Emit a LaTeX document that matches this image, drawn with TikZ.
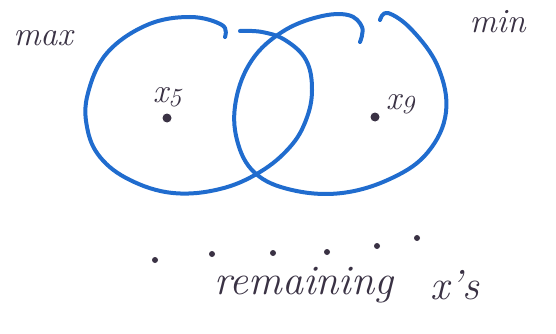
\documentclass[tikz,border=0pt]{standalone}
\usepackage{fontspec}
\usetikzlibrary{positioning}
\definecolor{marker}{RGB}{32,108,206}
\definecolor{ink}{RGB}{58,50,68}
\newcommand{\xsub}[1]{x\raisebox{-0.25ex}{\fontsize{26}{26}\selectfont #1}}
\tikzset{
  loopline/.style={marker,line width=4pt,line cap=round,line join=round},
  pt/.style={circle,fill=ink,inner sep=0pt,minimum size=#1},
  pt/.default=9pt
}
\begin{document}
\begin{tikzpicture}[x=1pt,y=-1pt,every node/.style={text=ink,font=\fontsize{34}{36}\selectfont\itshape}]
\useasboundingbox (0,0) rectangle (556,334);
% left loop around x_5
\draw[loopline] plot[smooth,tension=0.65] coordinates {(225,37) (222,25) (190,17) (147,25) (107,53) (88,93) (87,127) (100,157) (130,180) (173,193) (220,189) (260,172) (290,147) (306,120) (312,90) (306,60) (285,40) (262,32) (240,31)};
% right loop around x_9
\draw[loopline] plot[smooth,tension=0.65] coordinates {(360,42) (362,27) (348,15) (318,17) (282,32) (252,60) (236,100) (237,140) (255,173) (292,190) (342,193) (392,178) (428,152) (446,112) (438,67) (412,30) (388,13) (380,20)};
\node (max) at (43,38) {max};
\node[anchor=west] (min) at (466,22) {min};
\node[pt] (x5) at (167,118) {};
\node[above=3pt of x5] (x5lab) {\xsub{5}};
\node[pt] (x9) at (375,117) {};
\node[above right=-4pt and 4pt of x9] (x9lab) {\xsub{9}};
\foreach \n/\px/\py in {1/155/260,2/212/254,3/273/253,4/327/252,5/377/246,6/417/238}
  \node[pt=6pt] (r\n) at (\px,\py) {};
\node[font=\fontsize{42}{44}\selectfont\itshape] (rest) at (304,285) {remaining};
\node[font=\fontsize{42}{44}\selectfont\itshape,right=30pt of rest] (xs) {x's};
\end{tikzpicture}
\end{document}
